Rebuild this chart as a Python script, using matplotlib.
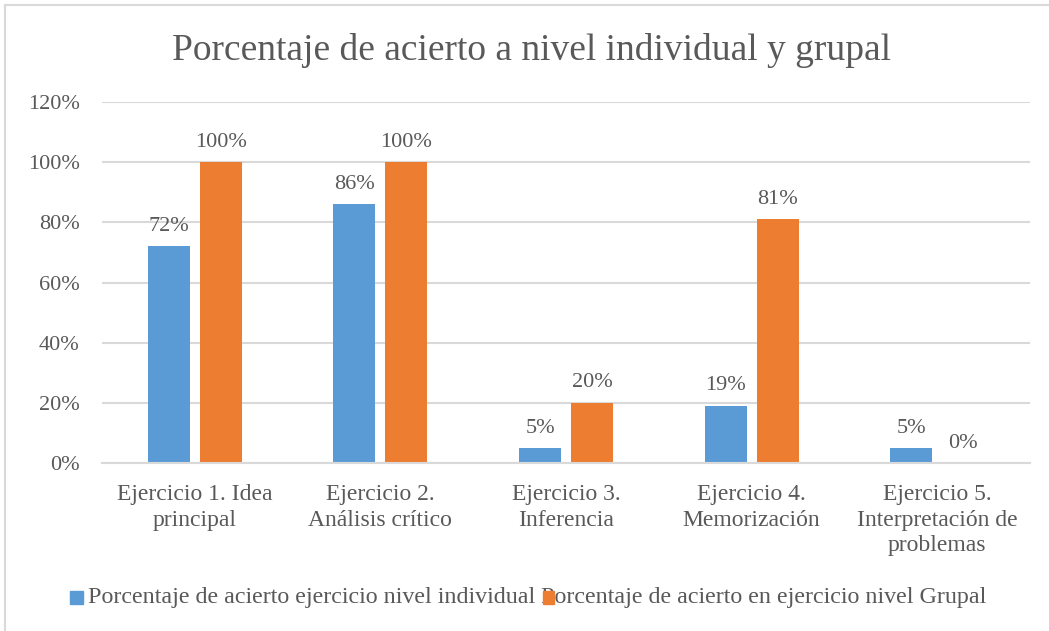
import matplotlib.pyplot as plt
import numpy as np
from matplotlib.patches import Rectangle
from matplotlib.lines import Line2D

categories = ['Ejercicio 1. Idea\nprincipal', 'Ejercicio 2.\nAnálisis crítico',
              'Ejercicio 3.\nInferencia', 'Ejercicio 4.\nMemorización',
              'Ejercicio 5.\nInterpretación de\nproblemas']
individual = [72, 86, 5, 19, 5]
grupal = [100, 100, 20, 81, 0]
yticks = [0, 20, 40, 60, 80, 100, 120]
series_names = ['Porcentaje de acierto ejercicio nivel individual',
                'Porcentaje de acierto en ejercicio nivel Grupal']

blue = '#5B9BD5'
orange = '#ED7D31'
txt = '#595959'
grid = '#D9D9D9'

plt.rcParams['font.family'] = ['Liberation Serif', 'DejaVu Serif']

W, H = 1049, 631
fig = plt.figure(figsize=(W / 100, H / 100), dpi=100)
ax = fig.add_axes([102 / W, 1 - 463 / H, (1030 - 102) / W, (463 - 102) / H])

x = np.arange(len(categories))
bw = 0.226
off = 0.14
b1 = ax.bar(x - off, individual, bw, color=blue, zorder=3)
b2 = ax.bar(x + off, grupal, bw, color=orange, zorder=3)

for bars, vals in ((b1, individual), (b2, grupal)):
    for r, v in zip(bars, vals):
        ax.annotate(f'{v}%', (r.get_x() + r.get_width() / 2, v),
                    xytext=(0, 7.5), textcoords='offset points',
                    ha='center', va='bottom', fontsize=16, color=txt)

ax.set_xlim(-0.5, len(categories) - 0.5)
ax.set_ylim(0, 120)
ax.set_yticks(yticks)
ax.set_yticklabels([f'{t}%' for t in yticks])
ax.set_xticks(x)
ax.set_xticklabels(categories, linespacing=1.3)
ax.tick_params(axis='y', length=0, pad=16, labelsize=16, labelcolor=txt)
ax.tick_params(axis='x', length=0, pad=15, labelsize=17, labelcolor=txt)
ax.grid(axis='y', color=grid, linewidth=1.5, zorder=0)
for s in ('top', 'right', 'left'):
    ax.spines[s].set_visible(False)
ax.spines['bottom'].set_color(grid)
ax.spines['bottom'].set_linewidth(1.5)
ax.spines['bottom'].set_zorder(4)

fig.text(532 / W, 1 - 50 / H, 'Porcentaje de acierto a nivel individual y grupal',
         ha='center', va='center', fontsize=27, color=txt)

# legend drawn by hand: Excel placed the second key on top of its own text
ly = 1 - 597 / H
fig.text(88 / W, ly, series_names[0], ha='left', va='center', fontsize=17.3, color=txt)
fig.text(541 / W, ly, series_names[1], ha='left', va='center', fontsize=17.3, color=txt)
fig.add_artist(Rectangle((70 / W, 1 - 604 / H), 13 / W, 13 / H, color=blue, zorder=5))
fig.add_artist(Rectangle((543 / W, 1 - 604 / H), 11 / W, 13 / H, color=orange, zorder=5))

# chart border (top and left edges visible)
fig.add_artist(Line2D([5 / W, 1], [1 - 5 / H, 1 - 5 / H], color=grid, linewidth=1.5))
fig.add_artist(Line2D([5 / W, 5 / W], [0, 1 - 5 / H], color=grid, linewidth=1.5))

fig.savefig('out.png', dpi=100)
